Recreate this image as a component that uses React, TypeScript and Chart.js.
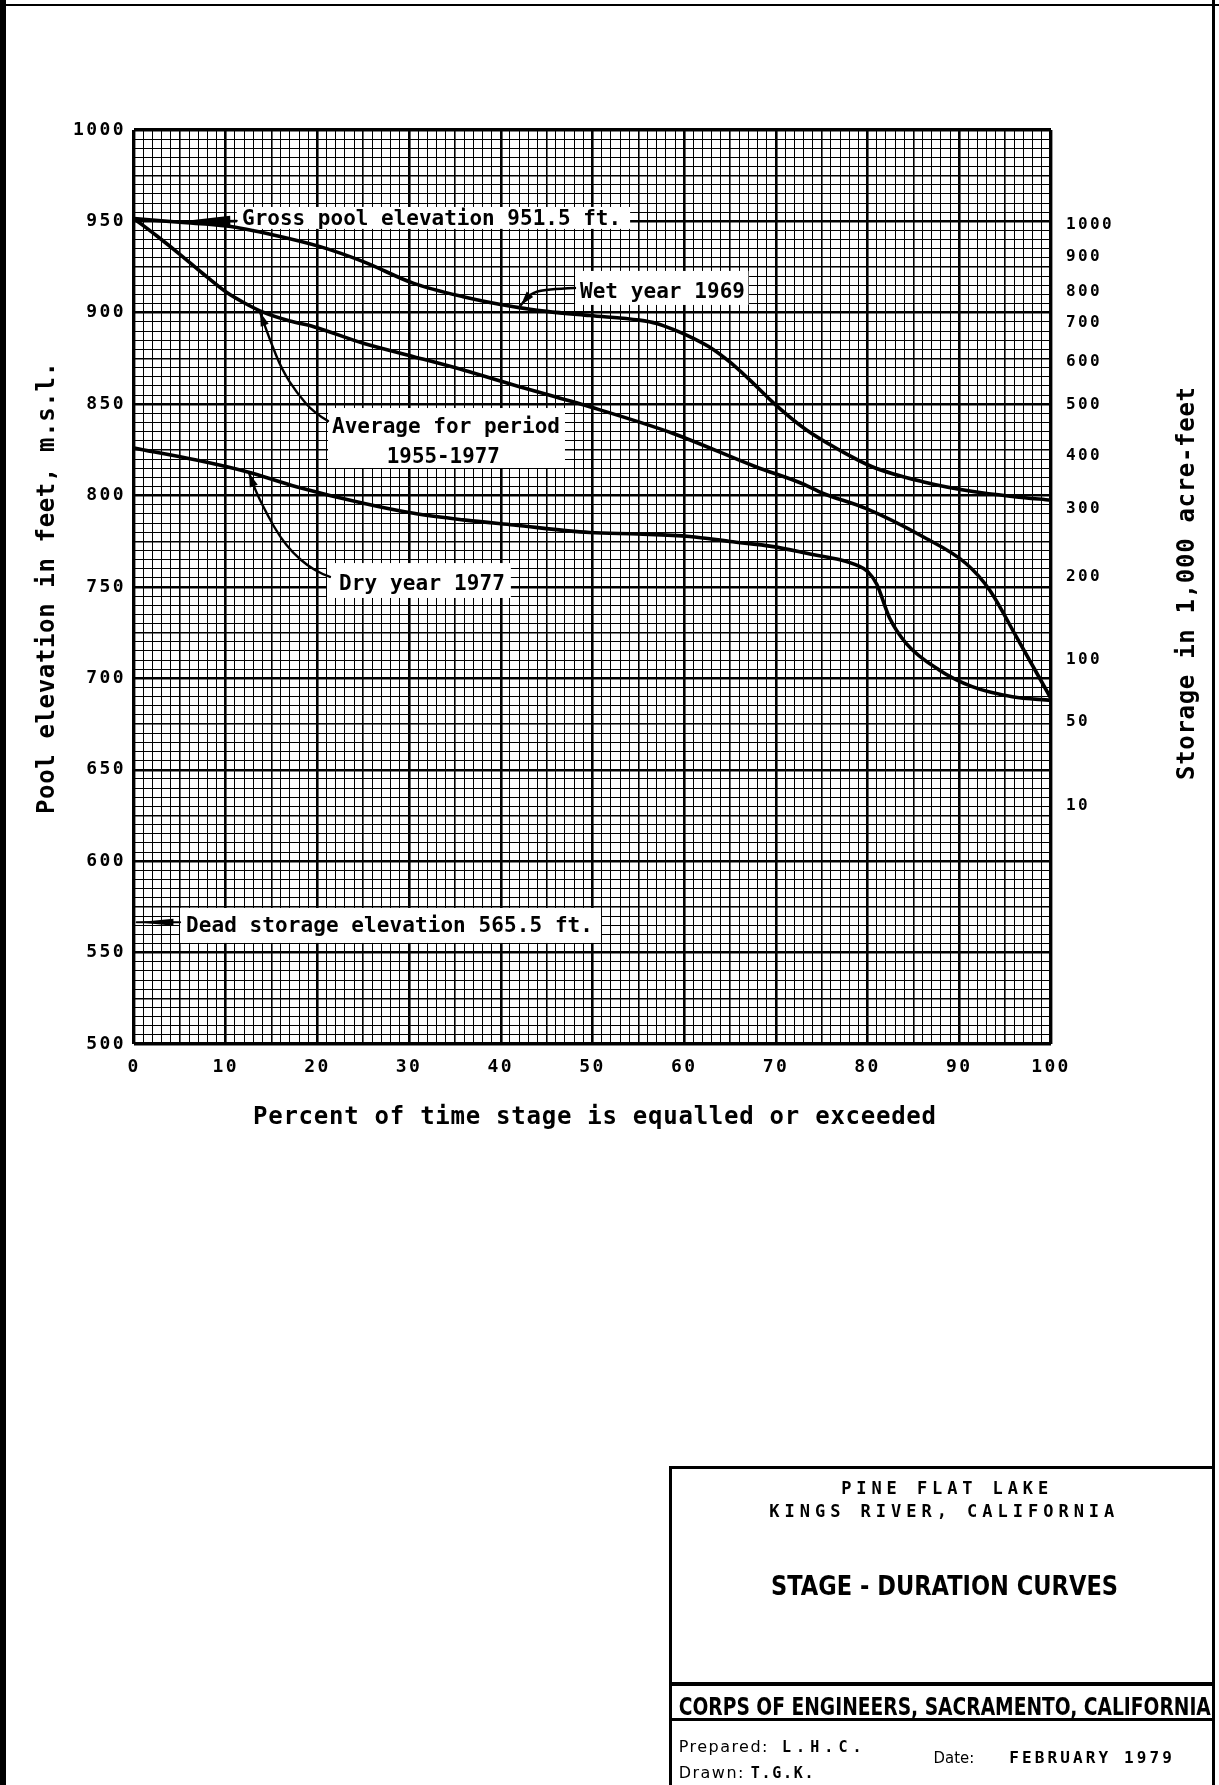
import React, { useEffect, useRef } from 'react';
import { Chart, registerables } from 'chart.js';

Chart.register(...registerables);

// ---------------- data ----------------
const wetPercent = [0, 5, 10.1, 15.2, 20.3, 25, 30.5, 35.9, 41.4, 45, 49.7, 55.1, 57, 59, 61, 63, 65, 67, 70, 73.3, 76.9, 80.5, 86, 91.5, 96, 100];
const wetElevation = [951.5, 949.5, 947.5, 942.6, 936.2, 928, 916.1, 908.8, 903.3, 900.8, 898.5, 896, 894.2, 890.5, 886, 880.5, 873, 864, 849.5, 836, 825, 815.8, 807.6, 802.2, 799.4, 797.5];

const averagePercent = [0, 2.5, 5, 7.5, 10, 12, 14, 17, 19.6, 25, 30.5, 35.9, 41.4, 49.7, 58.8, 67.8, 72.9, 75.1, 79.8, 86, 90.7, 93.3, 96.2, 100];
const averageElevation = [951.5, 942, 932, 921.5, 911.5, 905.5, 900.5, 895.5, 892.4, 883.3, 876, 868.7, 860.5, 848.6, 834, 815.8, 806.5, 801.3, 793, 777.6, 763, 748.4, 723, 689];

const dryPercent = [0, 6.8, 12.3, 17.7, 25, 30.5, 35.9, 41.4, 49.7, 55, 60.6, 65, 69.7, 74, 77, 79, 80, 81, 82.4, 84.2, 87.8, 91.4, 95.8, 100];
const dryElevation = [826, 819.5, 813.1, 804.9, 795.8, 790.3, 786.7, 783.9, 779.8, 779, 777.6, 774.9, 772.1, 767.8, 764.9, 761.5, 758.5, 751.5, 733, 719.2, 704.6, 695.5, 690, 688];

const xLabelValues = [0, 10, 20, 30, 40, 50, 60, 70, 80, 90, 100];
const yLabelValues = [500, 550, 600, 650, 700, 750, 800, 850, 900, 950, 1000];
const storageLabels = ['1000', '900', '800', '700', '600', '500', '400', '300', '200', '100', '50', '10'];
const storageElevations = [948, 930.7, 911.6, 894.3, 873.3, 849.6, 821.7, 793, 755.3, 710.2, 676.1, 630.4];

// ---------------- layout / style ----------------
const W = 1219;
const H = 1785;
const AREA = { left: 134, right: 1051, top: 130, bottom: 1044 };
const MONO = "'DejaVu Sans Mono', 'Liberation Mono', monospace";
const SANS = "'DejaVu Sans', 'Liberation Sans', sans-serif";
const NOTE_FONT = `bold 21px ${MONO}`;

// annotation layout, in data coordinates (percent, elevation)
const NOTES = [
  { box: [11.2, 957.9, 54.1, 945.9], lines: [{ t: 'Gross pool elevation 951.5 ft.', x: 32.45, y: 948.0, w: 379 }] },
  { box: [48.1, 922.9, 67.0, 904.3], lines: [{ t: 'Wet year 1969', x: 57.63, y: 907.9, w: 165 }] },
  {
    box: [21.16, 847.9, 47.0, 815.1],
    lines: [
      { t: 'Average for period', x: 34.02, y: 834.1, w: 228 },
      { t: '1955-1977', x: 33.73, y: 817.7, w: 113 },
    ],
  },
  { box: [21.05, 763.1, 41.1, 744.0], lines: [{ t: 'Dry year 1977', x: 31.4, y: 748.4, w: 166 }] },
  { box: [5.02, 574.4, 50.93, 555.3], lines: [{ t: 'Dead storage elevation 565.5 ft.', x: 27.86, y: 561.3, w: 407 }] },
];

const LEADERS = [
  [[48.09, 913.6], [44.8, 913.0], [43.2, 910.3], [42.2, 904.3]],
  [[21.16, 840.8], [19.63, 845.2], [17.78, 856.1], [16.14, 868.7], [14.83, 885.1], [13.74, 900.4]],
  [[21.37, 755.5], [20.5, 757.1], [18.97, 761.5], [17.34, 768.6], [15.92, 777.4], [14.61, 788.8], [13.3, 802.0], [12.54, 812.4]],
];

const POINTERS = [
  { tip: [4.5, 949.7], base: [10.5, 950.3], half: 5, tail: [11.2, 950.3] },
  { tip: [0.3, 566.6], base: [4.3, 566.6], half: 3.6, tail: [5.02, 566.6] },
];

// ---------------- helpers ----------------
function fitText(ctx: any, text: string, x: number, y: number, font: string, width: number, align: string) {
  ctx.save();
  ctx.font = font;
  ctx.letterSpacing = '0px';
  ctx.textAlign = 'left';
  ctx.textBaseline = 'alphabetic';
  ctx.fillStyle = '#000';
  const w0 = ctx.measureText(text).width;
  const n = text.length;
  let sp = n > 1 ? (width - w0) / (n - 1) : 0;
  let sx = 1;
  if (sp < 0) {
    sx = width / w0;
    sp = 0;
  }
  ctx.letterSpacing = sp + 'px';
  const left = align === 'center' ? x - width / 2 : align === 'right' ? x - width : x;
  ctx.translate(left, y);
  ctx.scale(sx, 1);
  ctx.fillText(text, 0, 0);
  ctx.restore();
}

function arrowHead(ctx: any, tx: number, ty: number, fx: number, fy: number, len: number, half: number) {
  const dx = tx - fx;
  const dy = ty - fy;
  const d = Math.hypot(dx, dy) || 1;
  const ux = dx / d;
  const uy = dy / d;
  const bx = tx - ux * len;
  const by = ty - uy * len;
  ctx.beginPath();
  ctx.moveTo(tx, ty);
  ctx.lineTo(bx - uy * half, by + ux * half);
  ctx.lineTo(bx + uy * half, by - ux * half);
  ctx.closePath();
  ctx.fill();
}

function smoothPath(ctx: any, pts: number[][]) {
  ctx.beginPath();
  ctx.moveTo(pts[0][0], pts[0][1]);
  for (let i = 1; i < pts.length - 1; i++) {
    const mx = (pts[i][0] + pts[i + 1][0]) / 2;
    const my = (pts[i][1] + pts[i + 1][1]) / 2;
    ctx.quadraticCurveTo(pts[i][0], pts[i][1], mx, my);
  }
  const l = pts[pts.length - 1];
  ctx.lineTo(l[0], l[1]);
  ctx.stroke();
}

const isLabel = (v: number, list: number[]) => Math.abs(v - Math.round(v)) < 1e-6 && list.includes(Math.round(v));

const gridWidth = (major: number, mid: number, min: number, max: number) => (c: any) => {
  const v = c.tick ? Math.round(c.tick.value * 1000) / 1000 : 0;
  if (v === min || v === max) return 3.4;
  if (Math.abs(v % major) < 1e-6) return 2.6;
  if (Math.abs(v % mid) < 1e-6) return 1.6;
  return 1;
};

const annotationPlugin = {
  id: 'stageDurationNotes',
  beforeDraw(chart: any) {
    chart.ctx.letterSpacing = '2.4px';
  },
  beforeDatasetsDraw(chart: any) {
    const ctx = chart.ctx;
    const X = (v: number) => chart.scales.x.getPixelForValue(v);
    const Y = (v: number) => chart.scales.y.getPixelForValue(v);
    ctx.save();
    ctx.fillStyle = '#ffffff';
    for (const n of NOTES) {
      const [x1, y1, x2, y2] = n.box;
      ctx.fillRect(X(x1), Y(y1), X(x2) - X(x1), Y(y2) - Y(y1));
    }
    ctx.restore();
  },
  afterDatasetsDraw(chart: any) {
    const ctx = chart.ctx;
    const X = (v: number) => chart.scales.x.getPixelForValue(v);
    const Y = (v: number) => chart.scales.y.getPixelForValue(v);
    ctx.save();
    ctx.letterSpacing = '0px';
    ctx.strokeStyle = '#000';
    ctx.fillStyle = '#000';
    ctx.lineCap = 'round';
    ctx.lineJoin = 'round';
    ctx.lineWidth = 2.4;
    for (const L of LEADERS) {
      const pts = L.map((p) => [X(p[0]), Y(p[1])]);
      smoothPath(ctx, pts);
      const a = pts[pts.length - 1];
      const b = pts[pts.length - 2];
      arrowHead(ctx, a[0], a[1], b[0], b[1], 14, 4.2);
    }
    for (const P of POINTERS) {
      const tx = X(P.tip[0]);
      const ty = Y(P.tip[1]);
      const bx = X(P.base[0]);
      const by = Y(P.base[1]);
      ctx.lineWidth = 2.2;
      ctx.beginPath();
      ctx.moveTo(tx, ty);
      ctx.lineTo(X(P.tail[0]), Y(P.tail[1]));
      ctx.stroke();
      arrowHead(ctx, tx, ty, bx, by, Math.hypot(tx - bx, ty - by), P.half);
    }
    ctx.restore();
    for (const n of NOTES) {
      for (const ln of n.lines) {
        fitText(ctx, ln.t, X(ln.x), Y(ln.y), NOTE_FONT, ln.w, 'center');
      }
    }
  },
  afterDraw(chart: any) {
    const ctx = chart.ctx;
    ctx.letterSpacing = '0px';
    const ca = chart.chartArea;
    const midY = (ca.top + ca.bottom) / 2;
    // axis titles
    ctx.save();
    ctx.translate(ca.left - 80, midY + 1);
    ctx.rotate(-Math.PI / 2);
    fitText(ctx, 'Pool elevation in feet, m.s.l.', 0, 0, `bold 24px ${MONO}`, 452, 'center');
    ctx.restore();
    ctx.save();
    ctx.translate(ca.right + 143, midY - 3.5);
    ctx.rotate(-Math.PI / 2);
    fitText(ctx, 'Storage in 1,000 acre-feet', 0, 0, `bold 24px ${MONO}`, 393, 'center');
    ctx.restore();
    fitText(ctx, 'Percent of time stage is equalled or exceeded', (ca.left + ca.right) / 2 + 2, ca.bottom + 80, `bold 24px ${MONO}`, 683, 'center');

    // page frame
    ctx.save();
    ctx.fillStyle = '#000';
    ctx.fillRect(0, 0, 6, H);
    ctx.fillRect(0, 4, W, 2);
    ctx.fillRect(1212, 0, 3, H);
    // title block
    ctx.fillRect(669, 1466, 3, H - 1466);
    ctx.fillRect(669, 1466, 1215 - 669, 3);
    ctx.fillRect(669, 1682, 1215 - 669, 4);
    ctx.fillRect(669, 1718, 1215 - 669, 3);
    ctx.restore();

    fitText(ctx, 'PINE FLAT LAKE', 944.7, 1493.5, `bold 17px ${MONO}`, 207, 'center');
    fitText(ctx, 'KINGS RIVER, CALIFORNIA', 941.8, 1516.5, `bold 17px ${MONO}`, 345, 'center');
    fitText(ctx, 'STAGE - DURATION CURVES', 944.5, 1595, `bold 27px ${SANS}`, 347, 'center');
    fitText(ctx, 'CORPS OF ENGINEERS, SACRAMENTO, CALIFORNIA', 678.8, 1715, `bold 25px ${SANS}`, 532, 'left');
    fitText(ctx, 'Prepared:', 678.8, 1751.5, `16px ${SANS}`, 88.6, 'left');
    fitText(ctx, 'L.H.C.', 782, 1751.5, `bold 15px ${MONO}`, 79.6, 'left');
    fitText(ctx, 'Drawn:', 678.8, 1778, `16px ${SANS}`, 64.6, 'left');
    fitText(ctx, 'T.G.K.', 750.8, 1778, `bold 15px ${MONO}`, 62.8, 'left');
    fitText(ctx, 'Date:', 933.6, 1763, `16px ${SANS}`, 40.6, 'left');
    fitText(ctx, 'FEBRUARY 1979', 1009.3, 1763, `bold 16px ${MONO}`, 162.5, 'left');
  },
};

const lineStyle = {
  borderColor: '#000',
  borderWidth: 3.6,
  pointRadius: 0,
  pointHoverRadius: 0,
  fill: false,
  cubicInterpolationMode: 'monotone',
  borderCapStyle: 'round',
  borderJoinStyle: 'round',
};

const toPoints = (xs: number[], ys: number[]) => xs.map((x, i) => ({ x, y: ys[i] }));

export default function App() {
  const ref = useRef<HTMLCanvasElement>(null);

  useEffect(() => {
    const canvas = ref.current;
    if (!canvas) return;
    const tickFont = { family: MONO, weight: 'bold', size: 18 };
    const chart = new Chart(canvas, {
      type: 'line',
      data: {
        datasets: [
          { label: 'Wet year 1969', data: toPoints(wetPercent, wetElevation), ...lineStyle },
          { label: 'Average for period 1955-1977', data: toPoints(averagePercent, averageElevation), ...lineStyle },
          { label: 'Dry year 1977', data: toPoints(dryPercent, dryElevation), ...lineStyle },
        ],
      },
      options: {
        responsive: false,
        maintainAspectRatio: false,
        animation: false,
        devicePixelRatio: 1,
        events: [],
        layout: { padding: { left: 0, right: 0, top: AREA.top, bottom: 0 } },
        plugins: {
          legend: { display: false },
          tooltip: { enabled: false },
          title: { display: false },
        },
        scales: {
          x: {
            type: 'linear',
            position: 'bottom',
            min: 0,
            max: 100,
            afterFit: (s: any) => {
              s.height = H - AREA.bottom;
            },
            ticks: {
              stepSize: 1,
              autoSkip: false,
              maxTicksLimit: 1000,
              maxRotation: 0,
              minRotation: 0,
              padding: 13,
              color: '#000',
              font: tickFont,
              callback: (v: any) => (isLabel(Number(v), xLabelValues) ? String(Math.round(Number(v))) : ''),
            },
            grid: { drawTicks: false, color: '#000', lineWidth: gridWidth(10, 5, 0, 100) },
            border: { display: false },
          },
          y: {
            type: 'linear',
            position: 'left',
            min: 500,
            max: 1000,
            afterFit: (s: any) => {
              s.width = AREA.left;
            },
            ticks: {
              stepSize: 5,
              autoSkip: false,
              maxTicksLimit: 1000,
              padding: 8,
              color: '#000',
              font: tickFont,
              callback: (v: any) => (isLabel(Number(v), yLabelValues) ? String(Math.round(Number(v))) : ''),
            },
            grid: { drawTicks: false, color: '#000', lineWidth: gridWidth(50, 25, 500, 1000) },
            border: { display: false },
          },
          storage: {
            type: 'linear',
            position: 'right',
            min: 500,
            max: 1000,
            afterFit: (s: any) => {
              s.width = W - AREA.right;
            },
            afterBuildTicks: (s: any) => {
              s.ticks = storageElevations.map((v) => ({ value: v }));
            },
            ticks: {
              autoSkip: false,
              padding: 15,
              color: '#000',
              font: { family: MONO, weight: 'bold', size: 16 },
              callback: (_v: any, i: number) => storageLabels[i],
            },
            grid: { display: false, drawTicks: false },
            border: { display: false },
          },
        },
      },
      plugins: [annotationPlugin],
    } as any);
    return () => chart.destroy();
  }, []);

  return (
    <div style={{ position: 'absolute', left: 0, top: 0, width: W, height: H, background: '#fff', overflow: 'hidden' }}>
      <canvas ref={ref} width={W} height={H} style={{ display: 'block', width: W, height: H }} />
    </div>
  );
}
